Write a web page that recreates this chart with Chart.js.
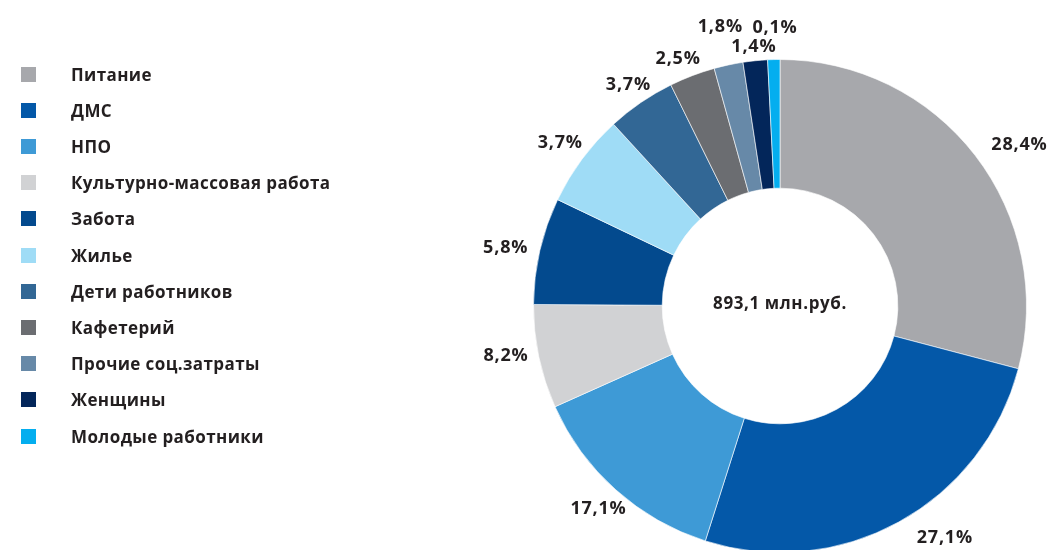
<!DOCTYPE html>
<html lang="ru">
<head>
    <meta charset="UTF-8">
    <title>Структура социальных затрат</title>
    <script src="https://cdn.jsdelivr.net/npm/chart.js"></script>
    <style>
        body { margin: 0; background: #fff; overflow: hidden; font-family: "Open Sans", sans-serif; }
        #wrap { position: absolute; left: 0; top: 0; width: 1055px; height: 560px; }
        #legend { position: absolute; left: 0; top: 0; }
        .item { position: absolute; left: 21px; height: 16px; display: flex; align-items: center; white-space: nowrap; }
        .box { width: 15px; height: 15px; flex: none; }
        .txt { margin-left: 35px; font-weight: 700; font-size: 17px; letter-spacing: 0.4px; color: #231f20; }
    </style>
</head>
<body>
    <div id="wrap"><canvas id="chart"></canvas></div>
    <div id="legend"></div>

    <script>
        // Категории и данные
        const categories = ['Питание', 'ДМС', 'НПО', 'Культурно-массовая работа', 'Забота', 'Жилье',
            'Дети работников', 'Кафетерий', 'Прочие соц.затраты', 'Женщины', 'Молодые работники'];
        // размеры секторов, как они нарисованы
        const shares = [29.1, 25.8, 13.4, 6.8, 7.0, 6.1, 4.5, 3.0, 1.9, 1.6, 0.8];
        // подписи секторов, как они напечатаны
        const shareLabels = ['28,4%', '27,1%', '17,1%', '8,2%', '5,8%', '3,7%', '3,7%', '2,5%', '1,8%', '1,4%', '0,1%'];
        const total = '893,1 млн.руб.';

        const colors = ['#a7a8ac', '#0458a8', '#3e9ad6', '#d1d2d4', '#034a8e', '#9fdcf6',
            '#326795', '#6b6d71', '#6789a8', '#03265a', '#04aeef'];

        // легенда слева
        const legend = document.getElementById('legend');
        categories.forEach((name, i) => {
            const row = document.createElement('div');
            row.className = 'item';
            row.style.top = (66 + i * 36.2) + 'px';
            row.innerHTML = '<span class="box" style="background:' + colors[i] + '"></span><span class="txt">' + name + '</span>';
            legend.appendChild(row);
        });

        // подписи процентов снаружи кольца: [сдвиг угла в градусах, отступ от края]
        const labelNudge = [[3.7, 42], [-6.6, 38], [0, 26], [1.6, 32], [-0.9, 34], [0, 27],
            [0, 22], [-1.5, 21], [0, 39], [0, 14], [0.4, 32]];

        const pctLabels = {
            id: 'pctLabels',
            afterDatasetsDraw(chart) {
                const ctx = chart.ctx;
                const arcs = chart.getDatasetMeta(0).data;
                ctx.save();
                ctx.fillStyle = '#231f20';
                ctx.textAlign = 'center';
                ctx.textBaseline = 'middle';
                ctx.font = '700 18px "Open Sans"';
                ctx.letterSpacing = '0.8px';
                arcs.forEach((arc, i) => {
                    const p = arc.getProps(['x', 'y', 'startAngle', 'endAngle', 'outerRadius'], true);
                    const mid = (p.startAngle + p.endAngle) / 2 + labelNudge[i][0] * Math.PI / 180;
                    const r = p.outerRadius + labelNudge[i][1];
                    ctx.fillText(shareLabels[i], p.x + Math.cos(mid) * r, p.y + Math.sin(mid) * r);
                });
                // итог в центре
                const c = arcs[0];
                ctx.font = '700 17px "Open Sans"';
                ctx.letterSpacing = '0.6px';
                ctx.fillText(total, c.x, c.y - 2);
                ctx.restore();
            }
        };

        new Chart(document.getElementById('chart'), {
            type: 'doughnut',
            data: {
                labels: categories,
                datasets: [{
                    data: shares,
                    backgroundColor: colors,
                    borderColor: 'rgba(255,255,255,0.6)',
                    borderWidth: 1
                }]
            },
            options: {
                responsive: true,
                maintainAspectRatio: false,
                animation: false,
                cutout: '47.8%',
                layout: { padding: { left: 533, right: 28, top: 59, bottom: 7 } },
                plugins: {
                    legend: { display: false },
                    tooltip: { enabled: false }
                }
            },
            plugins: [pctLabels]
        });
    </script>
</body>
</html>
